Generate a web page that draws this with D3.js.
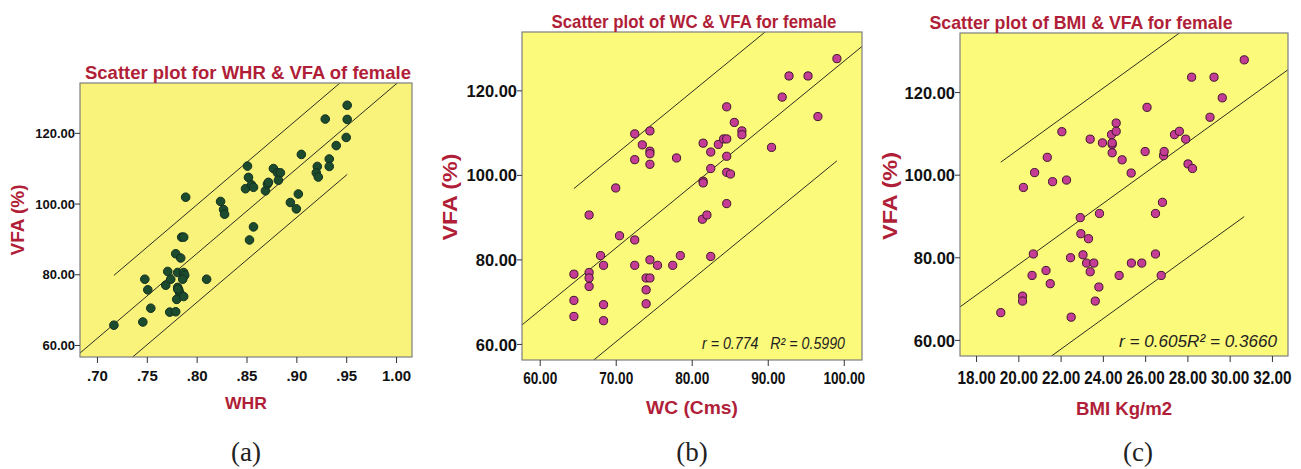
<!DOCTYPE html>
<html>
<head>
<meta charset="utf-8">
<script src="https://cdn.jsdelivr.net/npm/d3@7"></script>
<style>
  html, body { margin: 0; padding: 0; background: #fff; }
  svg { display: block; }
</style>
</head>
<body>
<svg id="chart" width="1301" height="469"></svg>
<script>
// ---------------- DATA ----------------
const whrX = [.717,.746,.754,.748,.751,.769,.771,.774,.773,.779,.779,.784,.785,.787,.781,.787,.788,.786,.781,.782,.783,.780,.787,.781,.789,.810,.824,.827,.828,.851,.852,.849,.855,.857,.853,.857,.869,.871,.872,.877,.881,.884,.882,.894,.900,.902,.905,.921,.920,.922,.929,.933,.933,.940,.951,.951,.950];
const whrVFA = [65.6,66.5,70.4,78.6,75.6,76.9,80.8,78.6,69.3,69.4,85.8,84.6,90.5,90.5,80.5,80.5,79.7,78.6,76.3,75.6,74.8,72.9,73.7,75.8,101.8,78.6,100.6,98.3,97.0,110.6,107.4,104.2,105.3,104.6,89.7,93.4,103.6,105.5,106.0,109.9,108.7,108.7,106.6,100.3,98.5,102.7,113.9,110.5,108.7,107.5,123.9,112.6,110.5,116.4,127.8,123.8,118.7];

const wcX = [64.5,64.5,64.5,66.5,66.5,66.5,66.5,68.0,68.4,68.4,68.4,70.0,70.5,72.5,72.5,72.5,72.5,73.5,74.5,74.5,74.5,74.5,74.5,74.0,74.5,74.0,74.0,75.5,77.5,78.0,78.5,81.5,81.5,81.5,81.4,82.0,82.5,82.5,82.5,83.5,84.2,84.6,84.6,84.6,84.6,85.1,84.6,85.6,86.6,86.6,90.5,91.9,92.8,95.3,96.6,99.1];
const wcVFA = [76.5,70.3,66.5,90.5,76.9,75.6,73.6,80.9,78.6,69.3,65.5,96.9,85.6,109.7,103.6,84.6,78.6,107.1,110.4,105.6,105.0,102.5,79.9,75.6,75.6,72.8,69.5,78.6,78.6,104.0,80.9,107.5,98.5,98.1,89.5,90.5,105.4,101.5,80.7,107.2,108.5,108.5,116.1,104.4,100.6,100.2,93.2,112.4,110.4,109.5,106.5,118.4,123.4,123.4,113.8,127.5];

const bmiX = [19.17,20.2,20.2,20.24,20.65,20.71,20.77,21.31,21.37,21.51,21.62,22.06,22.28,22.47,22.5,22.93,22.96,23.06,23.23,23.32,23.4,23.4,23.57,23.64,23.81,23.84,23.98,24.41,24.44,24.44,24.44,24.63,24.63,24.77,24.91,25.34,25.35,25.84,26.0,26.09,26.49,26.49,26.76,26.82,26.87,26.9,27.39,27.62,27.92,28.03,28.24,28.2,29.07,29.26,29.65,30.69];
const bmiVFA = [66.6,70.6,69.4,96.9,75.6,80.8,100.5,76.8,104.2,73.6,98.3,110.4,98.7,79.9,65.5,89.6,85.7,80.6,78.6,84.5,76.5,108.6,78.6,69.4,72.8,90.6,107.7,109.7,107.3,105.3,107.7,112.5,110.5,75.6,103.6,100.4,78.6,78.6,105.6,116.3,90.6,80.8,75.6,93.3,104.6,105.6,109.7,110.5,108.6,102.6,101.5,123.6,113.9,123.6,118.6,127.8];

// tick labels
const whrTicks = [0.70, 0.75, 0.80, 0.85, 0.90, 0.95, 1.00];
const wcTicks = [60, 70, 80, 90, 100];
const bmiTicks = [18, 20, 22, 24, 26, 28, 30, 32];
const vfaTicks = [60, 80, 100, 120];

// fit lines: [slope, intercept, half-width of prediction band]
const whrFit = [240, -106.2, 13.8];
const wcFit = [1.473, -20.45, 22.2];
const bmiFit = [3.70, 4.2, 27.9];

const titles = ["Scatter plot for WHR & VFA of female", "Scatter plot of WC & VFA for female", "Scatter plot of BMI & VFA for female"];
const xLabels = ["WHR", "WC (Cms)", "BMI Kg/m2"];
const yLabel = "VFA (%)";
const statLabels = [null, "r = 0.774   R\u00B2 = 0.5990", "r = 0.605R\u00B2 = 0.3660"];
const panelTags = ["(a)", "(b)", "(c)"];

// ---------------- LAYOUT ----------------
const RED = "#B01E38";
const SANS = "Liberation Sans, Arial, sans-serif";
const SERIF = "Liberation Serif, 'Times New Roman', serif";
const panels = [
  { x: whrX, y: whrVFA, ticks: whrTicks, fit: whrFit, fmt: d => d3.format(".2f")(d).replace(/^0/, ""),
    rect: [80, 412, 83, 357], xDom: [0.683, 1.016], yDom: [56.6, 134.1],
    bg: "#F9F37C", dotFill: "#1C4B2E", dotStroke: "#123020", r: 4.3,
    title: { x: 248, y: 79, size: 19, w: 326 },
    ytick: { size: 13, k: 1 }, xtick: { size: 15, k: 1, base: 381 },
    ylab: { x: 24, y: 220, size: 18, w: 71 }, xlab: { x: 246, y: 409, size: 17, w: 42 },
    tag: { x: 246, y: 461 } },
  { x: wcX, y: wcVFA, ticks: wcTicks, fit: wcFit, fmt: d3.format(".2f"),
    rect: [522, 862, 32, 360], xDom: [57.67, 102.4], yDom: [56.2, 133.8],
    bg: "#FCFA7A", dotFill: "#C43C93", dotStroke: "#3E1530", r: 4.1,
    title: { x: 694, y: 28, size: 19, w: 285 },
    ytick: { size: 17, k: 0.97 }, xtick: { size: 16, k: 0.85, base: 384 },
    ylab: { x: 457, y: 197, size: 20, w: 87 }, xlab: { x: 692, y: 414, size: 19, w: 92 },
    stat: { x: 845, y: 349, size: 16, w: 143 },
    tag: { x: 692, y: 461 } },
  { x: bmiX, y: bmiVFA, ticks: bmiTicks, fit: bmiFit, fmt: d3.format(".2f"),
    rect: [960, 1288, 33, 356], xDom: [17.24, 32.76], yDom: [56.1, 134.3],
    bg: "#FCFA7A", dotFill: "#C43C93", dotStroke: "#3E1530", r: 4.1,
    title: { x: 1081, y: 29, size: 19, w: 303 },
    ytick: { size: 17, k: 0.97 }, xtick: { size: 18, k: 0.85, base: 384 },
    ylab: { x: 897, y: 196, size: 20, w: 88 }, xlab: { x: 1124, y: 415, size: 18, w: 96 },
    stat: { x: 1277, y: 347, size: 17, w: 158 },
    tag: { x: 1138, y: 461 } }
];

const svg = d3.select("#chart");

function squeeze(sel, k) {
  sel.each(function() {
    const L = this.getComputedTextLength();
    d3.select(this).attr("textLength", L * k).attr("lengthAdjust", "spacingAndGlyphs");
  });
}
function fitWidth(sel, w) {
  sel.attr("textLength", w).attr("lengthAdjust", "spacingAndGlyphs");
}

panels.forEach((p, i) => {
  const [x0, x1, y0, y1] = p.rect;
  const xs = d3.scaleLinear().domain(p.xDom).range([x0, x1]);
  const ys = d3.scaleLinear().domain(p.yDom).range([y1, y0]);
  const g = svg.append("g");

  const clipId = "clip" + i;
  svg.append("clipPath").attr("id", clipId)
    .append("rect").attr("x", x0).attr("y", y0).attr("width", x1 - x0).attr("height", y1 - y0);

  // background
  g.append("rect").attr("x", x0).attr("y", y0).attr("width", x1 - x0).attr("height", y1 - y0)
    .attr("fill", p.bg);

  // fit lines
  const [m, b, h] = p.fit;
  const ext = d3.extent(p.x);
  const lineGen = d3.line().x(d => xs(d[0])).y(d => ys(d[1]));
  const lines = [
    [[p.xDom[0], m * p.xDom[0] + b], [p.xDom[1], m * p.xDom[1] + b]],
    [[ext[0], m * ext[0] + b + h], [ext[1], m * ext[1] + b + h]],
    [[ext[0], m * ext[0] + b - h], [ext[1], m * ext[1] + b - h]]
  ];
  g.append("g").attr("clip-path", `url(#${clipId})`)
    .selectAll("path").data(lines).join("path")
    .attr("d", lineGen).attr("fill", "none").attr("stroke", "#2d2d22").attr("stroke-width", 1);

  // dots
  const pts = p.x.map((v, k) => [v, p.y[k]]);
  g.append("g").selectAll("circle").data(pts).join("circle")
    .attr("cx", d => xs(d[0])).attr("cy", d => ys(d[1])).attr("r", p.r)
    .attr("fill", p.dotFill).attr("stroke", p.dotStroke).attr("stroke-width", 1);

  // frame
  g.append("rect").attr("x", x0).attr("y", y0).attr("width", x1 - x0).attr("height", y1 - y0)
    .attr("fill", "none").attr("stroke", "#7f7f7f").attr("stroke-width", 1.2);

  // axes
  const ax = g.append("g").attr("transform", `translate(${x0},0)`)
    .call(d3.axisLeft(ys).tickValues(vfaTicks).tickFormat(d3.format(".2f")).tickSize(5).tickPadding(0));
  ax.select(".domain").remove();
  ax.selectAll("line").attr("stroke", "#333");
  ax.selectAll("text").attr("fill", "#111").style("font-weight", "bold")
    .style("font-size", p.ytick.size + "px").style("font-family", SANS)
    .attr("dy", "0.36em");
  squeeze(ax.selectAll("text"), p.ytick.k);

  const bx = g.append("g").attr("transform", `translate(0,${y1})`)
    .call(d3.axisBottom(xs).tickValues(p.ticks).tickFormat(p.fmt).tickSize(6));
  bx.select(".domain").remove();
  bx.selectAll("line").attr("stroke", "#333");
  bx.selectAll("text").attr("fill", "#111").style("font-weight", "bold")
    .style("font-size", p.xtick.size + "px").style("font-family", SANS)
    .attr("dy", null).attr("y", p.xtick.base - y1);
  squeeze(bx.selectAll("text"), p.xtick.k);

  // title
  g.append("text").attr("x", p.title.x).attr("y", p.title.y).attr("text-anchor", "middle")
    .style("font-family", SANS).style("font-weight", "bold").style("font-size", p.title.size + "px")
    .attr("fill", RED).text(titles[i]).call(fitWidth, p.title.w);

  // y label
  g.append("text").attr("transform", `translate(${p.ylab.x},${p.ylab.y}) rotate(-90)`)
    .attr("text-anchor", "middle").style("font-family", SANS).style("font-weight", "bold")
    .style("font-size", p.ylab.size + "px").attr("fill", RED).text(yLabel).call(fitWidth, p.ylab.w);

  // x label
  g.append("text").attr("x", p.xlab.x).attr("y", p.xlab.y).attr("text-anchor", "middle")
    .style("font-family", SANS).style("font-weight", "bold").style("font-size", p.xlab.size + "px")
    .attr("fill", RED).text(xLabels[i]).call(fitWidth, p.xlab.w);

  // stat annotation
  if (p.stat) {
    g.append("text").attr("x", p.stat.x).attr("y", p.stat.y).attr("text-anchor", "end")
      .style("font-family", SANS).style("font-style", "italic").style("font-size", p.stat.size + "px")
      .attr("fill", "#222").style("white-space", "pre").text(statLabels[i]).call(fitWidth, p.stat.w);
  }

  // panel tag
  g.append("text").attr("x", p.tag.x).attr("y", p.tag.y).attr("text-anchor", "middle")
    .style("font-family", SERIF).style("font-size", "27px")
    .attr("fill", "#222").text(panelTags[i]);
});
</script>
</body>
</html>
